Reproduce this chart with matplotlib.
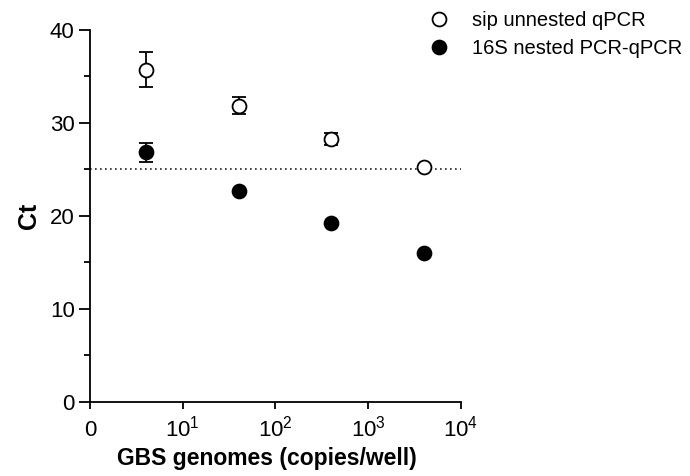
import matplotlib
matplotlib.use("Agg")
import matplotlib.pyplot as plt
from matplotlib.ticker import FixedLocator, NullLocator

plt.rcParams['font.family'] = ['Liberation Sans', 'DejaVu Sans']
plt.rcParams['mathtext.fontset'] = 'custom'
plt.rcParams['mathtext.rm'] = 'Liberation Sans'

copies = [4, 40, 400, 4000]
sip_ct = [35.7, 31.8, 28.2, 25.2]
sip_err = [1.9, 0.9, 0.65, 0.0]
s16_ct = [26.8, 22.7, 19.25, 16.05]
s16_err = [1.0, 0.0, 0.0, 0.0]
cutoff = 25
xtick_vals = [1, 10, 100, 1000, 10000]
xtick_labels = ['0', '$\\mathregular{10^{1}}$', '$\\mathregular{10^{2}}$',
                '$\\mathregular{10^{3}}$', '$\\mathregular{10^{4}}$']
ytick_vals = [0, 10, 20, 30, 40]
yminor_vals = [5, 15, 25, 35]

fig = plt.figure(figsize=(6.9, 4.76), dpi=100)
ax = fig.add_axes([0.1304, 0.1555, 0.5376, 0.7825])
ax.set_xscale('log')
ax.set_xlim(1, 10000)
ax.set_ylim(0, 40)

ax.axhline(cutoff, color='#222222', lw=1.2, ls=(0, (1, 2.0)), zorder=1)

ax.errorbar(copies, sip_ct, yerr=sip_err, fmt='o', ms=10, mfc='white', mec='black',
            mew=1.3, ecolor='black', elinewidth=1.3, capsize=5, capthick=1.3,
            zorder=3, label='sip unnested qPCR')
ax.errorbar(copies, s16_ct, yerr=s16_err, fmt='o', ms=10, mfc='black', mec='black',
            mew=1.3, ecolor='black', elinewidth=1.3, capsize=5, capthick=1.3,
            zorder=3, label='16S nested PCR-qPCR')

ax.xaxis.set_major_locator(FixedLocator(xtick_vals))
ax.set_xticklabels(xtick_labels)
ax.xaxis.set_minor_locator(NullLocator())
ax.yaxis.set_major_locator(FixedLocator(ytick_vals))
ax.yaxis.set_minor_locator(FixedLocator(yminor_vals))

for s in ['top', 'right']:
    ax.spines[s].set_visible(False)
for s in ['left', 'bottom']:
    ax.spines[s].set_linewidth(1.3)
ax.tick_params(axis='x', which='major', length=5, width=1.3, labelsize=16, pad=19.5)
ax.tick_params(axis='y', which='major', length=8, width=1.3, labelsize=16, pad=3)
ax.tick_params(axis='y', which='minor', length=4.3, width=1.3)
for lbl in ax.get_xticklabels():
    lbl.set_verticalalignment('baseline')

ax.set_xlabel('GBS genomes (copies/well)', fontsize=16.5, fontweight='bold')
ax.xaxis.set_label_coords(0.478, -0.169)
ax.xaxis.label.set_verticalalignment('baseline')
ax.set_ylabel('Ct', fontsize=18, fontweight='bold', labelpad=6)

h, l = ax.get_legend_handles_labels()
h = [x[0] for x in h]
leg = fig.legend(h, l, loc='upper left', bbox_to_anchor=(0.5887, 1.0155), frameon=False,
                 fontsize=14.5, handletextpad=0.85, labelspacing=0.45, handlelength=1.5)

fig.savefig('out.png', dpi=100, facecolor='white')
